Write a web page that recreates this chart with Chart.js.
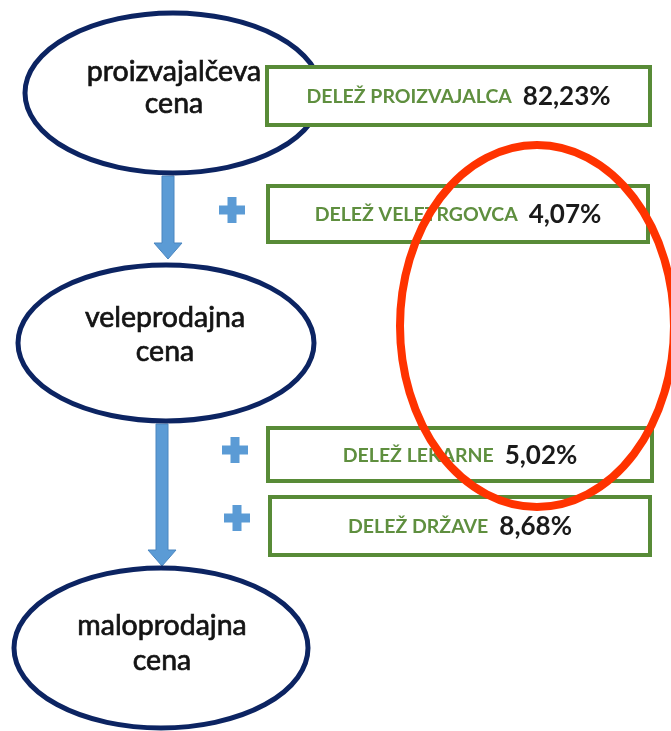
<!DOCTYPE html>
<html><head><meta charset="utf-8">
<script src="https://cdn.jsdelivr.net/npm/chart.js@4/dist/chart.umd.min.js"></script>
<style>html,body{margin:0;padding:0;background:#fff;overflow:hidden}canvas{display:block}</style>
</head><body>
<canvas id="c" width="671" height="731"></canvas>
<script>
// ---- data ----
const nodeLines = [["proizvajalčeva", "cena"], ["veleprodajna", "cena"], ["maloprodajna", "cena"]];
const shareLabels = ["DELEŽ PROIZVAJALCA", "DELEŽ VELETRGOVCA", "DELEŽ LEKARNE", "DELEŽ DRŽAVE"];
const shareValues = [82.23, 4.07, 5.02, 8.68];
const plusBefore = [false, true, true, true];

// ---- layout (in scale units) ----
const nodeGeo = [
  {cx: 173, cy: 93, rx: 148, ry: 80, tx: 174, t1: 72, t2: 104},
  {cx: 166, cy: 343, rx: 148, ry: 78, tx: 165, t1: 318, t2: 352},
  {cx: 161, cy: 648, rx: 147, ry: 80, tx: 162, t1: 626, t2: 661}
];
const boxGeo = [
  {x0: 267, y0: 67, x1: 650, y1: 125},
  {x0: 268, y0: 186, x1: 648, y1: 242},
  {x0: 268, y0: 428, x1: 652, y1: 481},
  {x0: 270, y0: 497, x1: 650, y1: 555}
];
const plusGeo = [null, {x: 232, y: 210}, {x: 235, y: 450}, {x: 237, y: 518}];
const arrowGeo = [{x: 168, y0: 176, y1: 259}, {x: 162, y0: 424, y1: 566}];
const redGeo = {cx: 537, cy: 326, rx: 137, ry: 181};

const fmt = v => v.toFixed(2).replace('.', ',') + '%';

const diagram = {
  id: 'diagram',
  afterDraw(chart) {
    const c = chart.ctx, sx = chart.scales.x, sy = chart.scales.y;
    const X = v => sx.getPixelForValue(v), Y = v => sy.getPixelForValue(v);
    const W = d => X(d) - X(0), H = d => Y(d) - Y(0);
    c.save();
    // arrows
    c.fillStyle = '#5b9bd5';
    c.strokeStyle = '#4a86c0';
    c.lineWidth = 1;
    arrowGeo.forEach(a => {
      const x = X(a.x), y0 = Y(a.y0), y1 = Y(a.y1);
      const sw = W(6), hw = W(14), hh = H(16);
      c.beginPath();
      c.moveTo(x - sw, y0); c.lineTo(x + sw, y0); c.lineTo(x + sw, y1 - hh);
      c.lineTo(x + hw, y1 - hh); c.lineTo(x, y1); c.lineTo(x - hw, y1 - hh);
      c.lineTo(x - sw, y1 - hh); c.closePath();
      c.fill(); c.stroke();
    });
    // ellipses
    nodeGeo.forEach((n, i) => {
      c.beginPath();
      c.ellipse(X(n.cx), Y(n.cy), W(n.rx), H(n.ry), 0, 0, Math.PI * 2);
      c.fillStyle = '#ffffff';
      c.fill();
      c.lineWidth = 5;
      c.strokeStyle = '#0c2462';
      c.stroke();
      c.fillStyle = '#141414';
      c.strokeStyle = '#141414';
      c.lineWidth = 0.7;
      c.font = '28.5px Lato';
      c.textAlign = 'center';
      c.textBaseline = 'middle';
      [n.t1, n.t2].forEach((ty, k) => {
        c.fillText(nodeLines[i][k], X(n.tx), Y(ty));
        c.strokeText(nodeLines[i][k], X(n.tx), Y(ty));
      });
    });
    // boxes
    boxGeo.forEach((b, i) => {
      const x0 = X(b.x0), y0 = Y(b.y0), w = X(b.x1) - x0, h = Y(b.y1) - y0;
      c.fillStyle = '#ffffff';
      c.fillRect(x0, y0, w, h);
      c.lineWidth = 4;
      c.strokeStyle = '#588b37';
      c.strokeRect(x0, y0, w, h);
      const lab = shareLabels[i], val = fmt(shareValues[i]);
      const labFont = 'bold 19.5px Lato', valFont = 'bold 26px Lato';
      c.font = labFont;
      const lw = c.measureText(lab).width;
      c.font = valFont;
      const vw = c.measureText(val).width;
      const gap = 11;
      const start = x0 + w / 2 - (lw + gap + vw) / 2;
      const ym = y0 + h / 2 + 1;
      c.textAlign = 'left';
      c.textBaseline = 'middle';
      c.font = labFont;
      c.fillStyle = '#5f8f3f';
      c.fillText(lab, start, ym);
      c.font = valFont;
      c.fillStyle = '#1a1a1a';
      c.fillText(val, start + lw + gap, ym);
      // plus sign
      if (plusBefore[i]) {
        const p = plusGeo[i];
        const px = X(p.x), py = Y(p.y), s = W(13), t = W(4.5);
        c.fillStyle = '#5b9bd5';
        c.fillRect(px - s, py - t, 2 * s, 2 * t);
        c.fillRect(px - t, py - s, 2 * t, 2 * s);
      }
    });
    // red ellipse
    c.beginPath();
    c.ellipse(X(redGeo.cx), Y(redGeo.cy), W(redGeo.rx), H(redGeo.ry), 0, 0, Math.PI * 2);
    c.lineWidth = 8;
    c.strokeStyle = '#ff3300';
    c.stroke();
    c.restore();
  }
};

new Chart(document.getElementById('c').getContext('2d'), {
  type: 'scatter',
  data: {datasets: [{data: shareValues.map((v, i) => ({x: (boxGeo[i].x0 + boxGeo[i].x1) / 2, y: (boxGeo[i].y0 + boxGeo[i].y1) / 2})), pointRadius: 0, showLine: false}]},
  options: {
    responsive: false,
    animation: false,
    devicePixelRatio: 1,
    layout: {padding: 0},
    events: [],
    plugins: {legend: {display: false}, tooltip: {enabled: false}, title: {display: false}},
    scales: {
      x: {type: 'linear', min: 0, max: 671, display: false},
      y: {type: 'linear', min: 0, max: 731, reverse: true, display: false}
    }
  },
  plugins: [diagram]
});
</script>
</body></html>
